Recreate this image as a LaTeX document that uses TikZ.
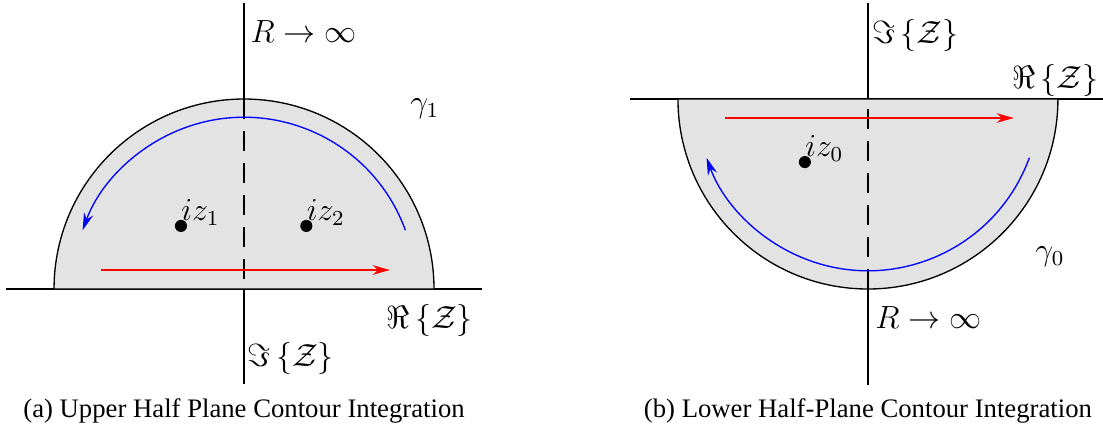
\documentclass[tikz,border=0pt]{standalone}
\usepackage{amsmath}
\usepackage{amssymb}
\usepackage[no-math]{fontspec}
\setmainfont{Liberation Serif}
\usepackage{xcolor}
\usepackage{tikz}
\usetikzlibrary{arrows.meta}

\begin{document}
\begin{tikzpicture}[
      arr/.style={-{Stealth[length=6.5pt, width=3.6pt]}, line width=0.5pt},
      axis/.style={line width=0.7pt},
      half/.style={fill=black!11, draw=black, line width=0.5pt},
      mid/.style={line width=0.7pt, dash pattern=on 7.5pt off 4.5pt},
      pole/.style={circle, fill=black, inner sep=1.6pt},
      lbl/.style={font=\large, inner sep=0pt}
    ]
    \useasboundingbox (-3.211,-1.868) rectangle (11.303,3.803);

    % ══ LEFT: upper half plane ════════════════════════════════════════════════
    \draw[axis] (-3.13,0) -- (3.13,0);
    \draw[axis] (0,-1.25) -- (0,3.76);
    \draw[half] (-2.5,0) arc[start angle=180, end angle=0, radius=2.5] -- cycle;
    \draw[mid] (0,2.5) -- (0,0);

    % contour
    \draw[arr, blue] (20:2.26) arc[start angle=20, end angle=160, radius=2.26];
    \draw[arr, red] (-1.88,0.25) -- (1.92,0.25);

    % poles
    \node[pole] (z1) at (-0.83,0.83) {};
    \node[pole] (z2) at (0.82,0.83) {};
    \node[lbl, anchor=south west] (z1lbl) at (z1.center) {$iz_1$};
    \node[lbl, anchor=south west] (z2lbl) at (z2.center) {$iz_2$};

    % labels
    \node[lbl, anchor=west] (rinfA) at (0.08,3.39) {$R \to \infty$};
    \node[lbl] (gamA) at (2.38,2.37) {$\gamma_1$};
    \node[lbl, anchor=west] (reA) at (1.87,-0.42) {$\Re\left\{\mathcal{Z}\right\}$};
    \node[lbl, anchor=west] (imA) at (0.04,-0.91) {$\Im\left\{\mathcal{Z}\right\}$};
    \node (capA) at (0,-1.6) {(a) Upper Half Plane Contour Integration};

    % ══ RIGHT: lower half plane ═══════════════════════════════════════════════
    \begin{scope}[xshift=8.21cm, yshift=2.5cm]
      \draw[axis] (-3.13,0) -- (3.13,0);
      \draw[axis] (0,-3.76) -- (0,1.26);
      \draw[half] (-2.5,0) arc[start angle=180, end angle=360, radius=2.5] -- cycle;
      \draw[mid] (0,-2.5) -- (0,0);

      % contour
      \draw[arr, blue] (-20:2.26) arc[start angle=-20, end angle=-160, radius=2.26];
      \draw[arr, red] (-1.88,-0.25) -- (1.92,-0.25);

      % pole
      \node[pole] (z0) at (-0.83,-0.83) {};
      \node[lbl, anchor=south west] (z0lbl) at (z0.center) {$iz_0$};

      % labels
      \node[lbl, anchor=west] (imB) at (0.05,0.83) {$\Im\left\{\mathcal{Z}\right\}$};
      \node[lbl, anchor=west] (reB) at (1.89,0.24) {$\Re\left\{\mathcal{Z}\right\}$};
      \node[lbl, anchor=west] (rinfB) at (0.09,-2.875) {$R \to \infty$};
      \node[lbl] (gamB) at (2.395,-2.08) {$\gamma_0$};
      \node (capB) at (0,-4.1) {(b) Lower Half-Plane Contour Integration};
    \end{scope}

  \end{tikzpicture}
\end{document}
